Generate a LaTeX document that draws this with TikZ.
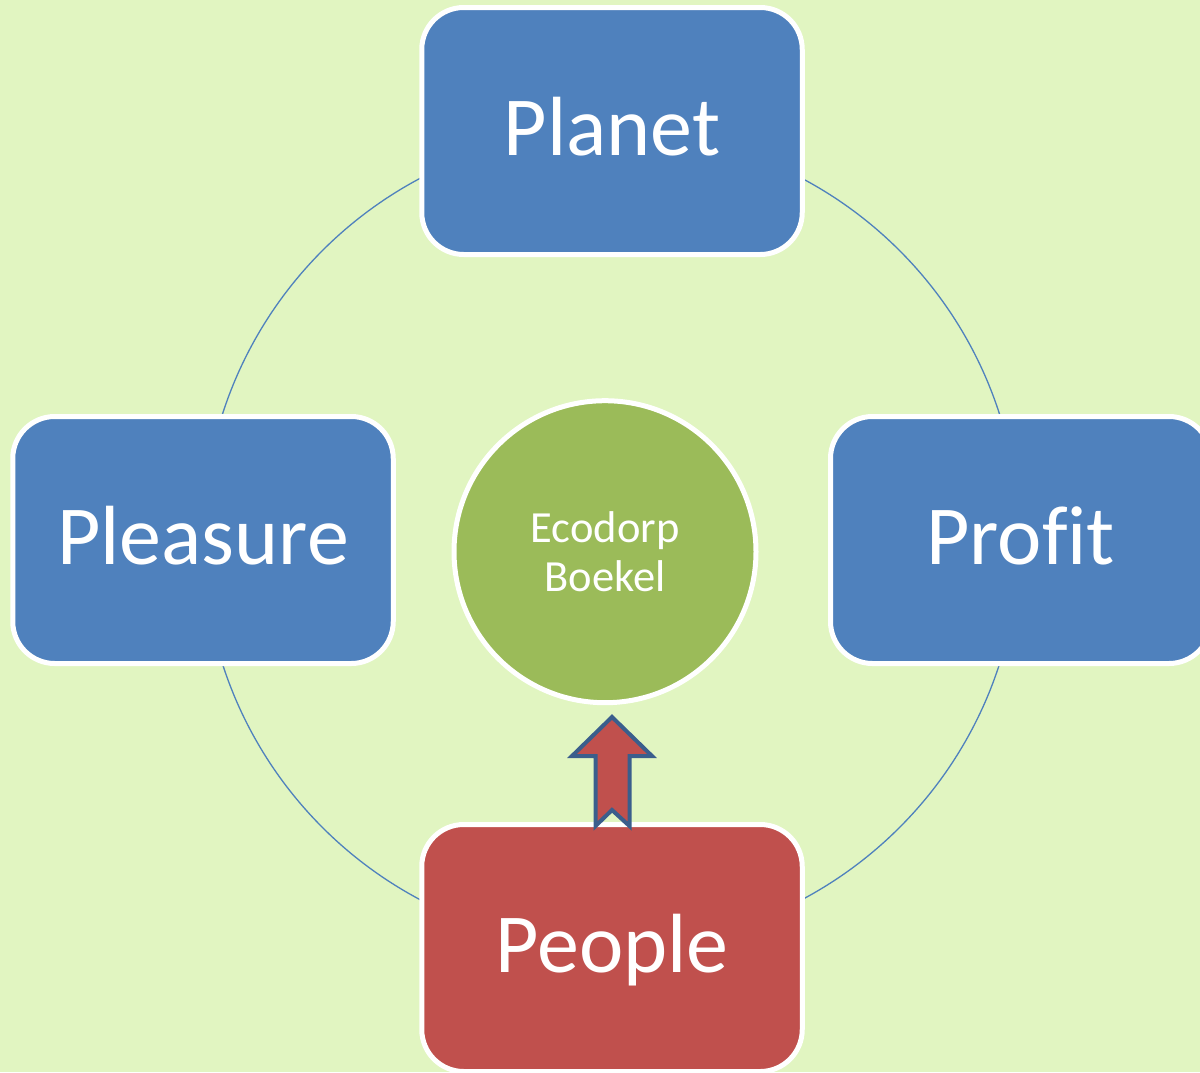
\documentclass[tikz,border=0pt]{standalone}
\usepackage{fontspec}
\setmainfont{Carlito}[Ligatures=NoCommon]
\definecolor{bgc}{HTML}{E1F5C1}
\definecolor{boxblue}{HTML}{4F81BD}
\definecolor{boxred}{HTML}{C0504D}
\definecolor{ecogreen}{HTML}{9BBB59}
\definecolor{arrowedge}{HTML}{3A5E8C}
\tikzset{
  ringline/.style={draw=boxblue, line width=1.3pt},
  pbox/.style={draw=white, line width=5pt, rounded corners=42pt,
    minimum width=380.5pt, minimum height=247pt, inner sep=0pt,
    text=white, text height=48pt, text depth=0pt,
    font=\fontsize{84}{100}\selectfont},
  ecocircle/.style={circle, draw=white, line width=5pt, fill=ecogreen,
    minimum size=302pt, inner sep=0pt, text=white, align=center,
    font=\fontsize{44.5}{49}\selectfont},
  blockarrow/.style={draw=arrowedge, fill=boxred, line width=4pt, line join=miter}
}
\begin{document}
\begin{tikzpicture}[x=1pt,y=-1pt]
\useasboundingbox (0,0) rectangle (1200,1072);
\clip (0,0) rectangle (1200,1072);
\fill[bgc] (0,0) rectangle (1200,1072);
\draw[ringline] (611,539) circle[radius=408];
\node[pbox, fill=boxblue] (planet) at (612,131) {Planet};
\node[pbox, fill=boxblue] (pleasure) at (203,540) {Pleasure};
\node[pbox, fill=boxblue] (profit) at (1020.75,540) {Profit};
\node[pbox, fill=boxred] (people) at (612,948) {People};
\node[ecocircle] (eco) at (605,551.7) {Ecodorp\\Boekel};
\draw[blockarrow] (595.5,826) -- (595.5,756) -- (572,756) -- (612,717)
  -- (652,756) -- (629.5,756) -- (629.5,826) -- (612,810) -- cycle;
\end{tikzpicture}
\end{document}
